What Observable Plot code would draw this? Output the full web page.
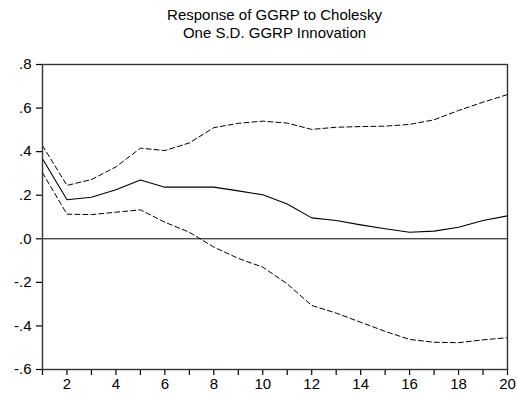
<!DOCTYPE html>
<html>
<head>
<meta charset="utf-8">
<script src="https://cdn.jsdelivr.net/npm/d3@7"></script>
<script src="https://cdn.jsdelivr.net/npm/@observablehq/plot@0.6"></script>
<style>
  body { margin: 0; background: #fff; font-family: "Liberation Sans", Arial, sans-serif; }
  #title { width: 517px; height: 45px; text-align: center; font-size: 15px; line-height: 18px; padding-top: 6px; box-sizing: border-box; color: #000; padding-left: 32px; }
</style>
</head>
<body>
<div id="title">Response of GGRP to Cholesky<br>One S.D. GGRP Innovation</div>
<div id="chart"></div>
<script>
const periods = d3.range(1, 21);
const response = [0.367, 0.179, 0.191, 0.225, 0.270, 0.237, 0.237, 0.237, 0.220, 0.202, 0.160, 0.096, 0.084, 0.064, 0.046, 0.030, 0.035, 0.053, 0.084, 0.105];
const upper = [0.428, 0.245, 0.272, 0.330, 0.416, 0.405, 0.440, 0.510, 0.530, 0.540, 0.531, 0.502, 0.512, 0.515, 0.517, 0.525, 0.546, 0.589, 0.627, 0.662];
const lower = [0.303, 0.113, 0.111, 0.122, 0.133, 0.076, 0.030, -0.038, -0.090, -0.130, -0.207, -0.306, -0.341, -0.383, -0.425, -0.462, -0.475, -0.477, -0.464, -0.454];
const yTicks = [-0.6, -0.4, -0.2, 0.0, 0.2, 0.4, 0.6, 0.8];
const yTickLabels = ["-.6", "-.4", "-.2", ".0", ".2", ".4", ".6", ".8"];
const xTickLabels = ["", "2", "", "4", "", "6", "", "8", "", "10", "", "12", "", "14", "", "16", "", "18", "", "20"];

const rows = periods.map((p, i) => ({p, response: response[i], upper: upper[i], lower: lower[i]}));

const chart = Plot.plot({
  width: 517,
  height: 354,
  marginTop: 19,
  marginBottom: 30,
  marginLeft: 42,
  marginRight: 10,
  style: { fontFamily: "'Liberation Sans', Arial, sans-serif", fontSize: "15px", color: "#000", background: "#fff" },
  x: { domain: [1, 20] },
  y: { domain: [-0.6, 0.8] },
  marks: [
    Plot.axisX({ ticks: periods, tickFormat: (d) => xTickLabels[periods.indexOf(d)], tickSize: 6, tickPadding: 3, label: null, stroke: "#000", strokeWidth: 1.2 }),
    Plot.axisY({ ticks: yTicks, tickFormat: (d) => yTickLabels[yTicks.findIndex(t => Math.abs(t - d) < 1e-9)], tickSize: 6, tickPadding: 5, label: null, stroke: "#000", strokeWidth: 1.2 }),
    Plot.ruleY([0], { stroke: "#000", strokeWidth: 1 }),
    Plot.line(rows, { x: "p", y: "upper", stroke: "#000", strokeWidth: 1, strokeDasharray: "5,3" }),
    Plot.line(rows, { x: "p", y: "lower", stroke: "#000", strokeWidth: 1, strokeDasharray: "5,3" }),
    Plot.line(rows, { x: "p", y: "response", stroke: "#000", strokeWidth: 1.1 }),
    Plot.frame({ stroke: "#333", strokeWidth: 1.4 })
  ]
});
document.getElementById("chart").appendChild(chart);
</script>
</body>
</html>
